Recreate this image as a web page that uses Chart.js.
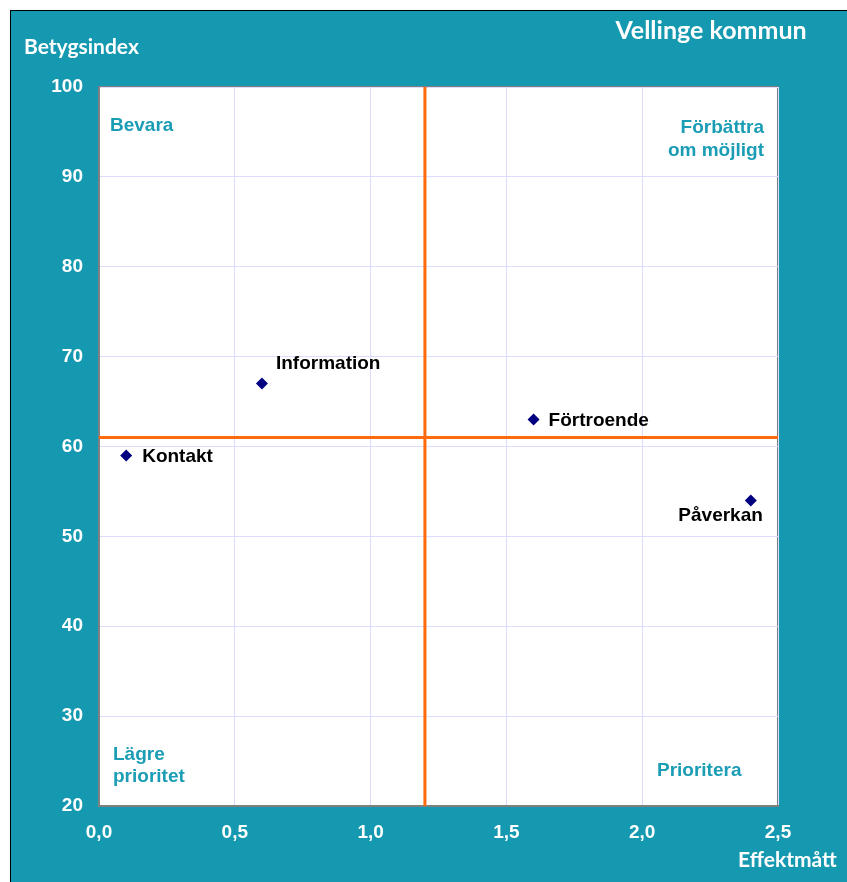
<!DOCTYPE html>
<html>
<head>
<meta charset="utf-8">
<script src="https://cdn.jsdelivr.net/npm/chart.js@4"></script>
<style>
  html, body { margin: 0; padding: 0; background: #fff; }
  #wrap { position: absolute; left: 10px; top: 10px; width: 837px; height: 872px;
          background: #1499b0; border-top: 1px solid #000; border-left: 1px solid #000; box-sizing: border-box; }
  canvas { position: absolute; left: -1px; top: -1px; }
</style>
</head>
<body>
<div id="wrap"><canvas id="chart" width="837" height="872"></canvas></div>
<script>
const areas = ["Kontakt", "Information", "Förtroende", "Påverkan"];
const effekt = [0.1, 0.6, 1.6, 2.4];
const betyg = [59, 67, 63, 54];
const effektMean = 1.2;
const betygMean = 61;
const quadrants = ["Bevara", "Förbättra\nom möjligt", "Lägre\nprioritet", "Prioritera"];

const labelTeal = '#1a9db5';
const arial = '"Liberation Sans", Arial, sans-serif';

// how each point label sits next to its marker
const labelPlace = {
  "Kontakt": { dx: 16, dy: 1, align: 'left' },
  "Information": { dx: 14, dy: -20, align: 'left' },
  "Förtroende": { dx: 15, dy: 1, align: 'left' },
  "Påverkan": { dx: 12, dy: 15, align: 'right' }
};

const fmt = v => v.toFixed(1).replace('.', ',');

const textPlugin = {
  id: 'texts',
  afterDatasetsDraw(chart) {
    const ctx = chart.ctx;
    const a = chart.chartArea;
    ctx.save();
    ctx.textBaseline = 'middle';

    // point labels
    const meta = chart.getDatasetMeta(2);
    ctx.fillStyle = '#000';
    ctx.font = 'bold 19px ' + arial;
    meta.data.forEach((pt, i) => {
      const p = labelPlace[areas[i]];
      ctx.textAlign = p.align;
      ctx.fillText(areas[i], pt.x + p.dx, pt.y + p.dy);
    });

    // quadrant labels
    ctx.fillStyle = labelTeal;
    ctx.font = 'bold 19px ' + arial;
    const lines = s => s.split('\n');
    ctx.textAlign = 'left';
    lines(quadrants[0]).forEach((t, i) => ctx.fillText(t, a.left + 11, a.top + 39 + i * 22));
    ctx.textAlign = 'right';
    lines(quadrants[1]).forEach((t, i) => ctx.fillText(t, a.right - 14, a.top + 41 + i * 23));
    ctx.textAlign = 'left';
    lines(quadrants[2]).forEach((t, i) => ctx.fillText(t, a.left + 14, a.bottom - 51 + i * 22));
    ctx.fillText(quadrants[3], a.left + 558, a.bottom - 35);

    // titles
    ctx.fillStyle = '#fff';
    ctx.font = 'bold 25px Lato, "Open Sans", sans-serif';
    ctx.textAlign = 'center';
    ctx.fillText('Vellinge kommun', 701, 21);
    ctx.font = 'bold 21px Lato, "Open Sans", sans-serif';
    ctx.textAlign = 'left';
    ctx.fillText('Betygsindex', 14, 37);
    ctx.fillText('Effektmått', 728, 850);
    ctx.restore();
  }
};

new Chart(document.getElementById('chart'), {
  type: 'scatter',
  data: {
    datasets: [
      {
        data: [{ x: effektMean, y: 20 }, { x: effektMean, y: 100 }],
        showLine: true, borderColor: '#ff6a0d', borderWidth: 3, pointRadius: 0
      },
      {
        data: [{ x: 0, y: betygMean }, { x: 2.5, y: betygMean }],
        showLine: true, borderColor: '#ff6a0d', borderWidth: 3, pointRadius: 0
      },
      {
        data: effekt.map((x, i) => ({ x, y: betyg[i] })),
        pointStyle: 'rectRot', pointRadius: 6, pointHoverRadius: 6,
        backgroundColor: '#000080', borderColor: '#000080', borderWidth: 0
      }
    ]
  },
  options: {
    responsive: false,
    animation: false,
    layout: { padding: { left: 0, right: 69, top: 77, bottom: 0 } },
    plugins: { legend: { display: false }, tooltip: { enabled: false } },
    scales: {
      x: {
        min: 0, max: 2.5,
        afterFit: s => { s.height = 76; },
        border: { color: '#808080', width: 2 },
        grid: { color: '#dcdcff', lineWidth: 1, drawTicks: false },
        ticks: {
          stepSize: 0.5, padding: 15, color: '#fff',
          font: { family: arial, size: 19, weight: 'bold' },
          callback: v => fmt(v)
        }
      },
      y: {
        min: 20, max: 100,
        afterFit: s => { s.width = 89; },
        border: { color: '#808080', width: 2 },
        grid: { color: '#dcdcff', lineWidth: 1, drawTicks: false },
        ticks: {
          stepSize: 10, padding: 16, color: '#fff',
          font: { family: arial, size: 19, weight: 'bold' }
        }
      }
    }
  },
  plugins: [
    {
      id: 'plotBox',
      beforeDraw(chart) {
        const a = chart.chartArea, ctx = chart.ctx;
        ctx.save();
        ctx.fillStyle = '#fff';
        ctx.fillRect(a.left, a.top, a.right - a.left, a.bottom - a.top);
        ctx.strokeStyle = '#808080';
        ctx.lineWidth = 2;
        ctx.strokeRect(a.left, a.top, a.right - a.left, a.bottom - a.top);
        ctx.restore();
      }
    },
    textPlugin
  ]
});
</script>
</body>
</html>
